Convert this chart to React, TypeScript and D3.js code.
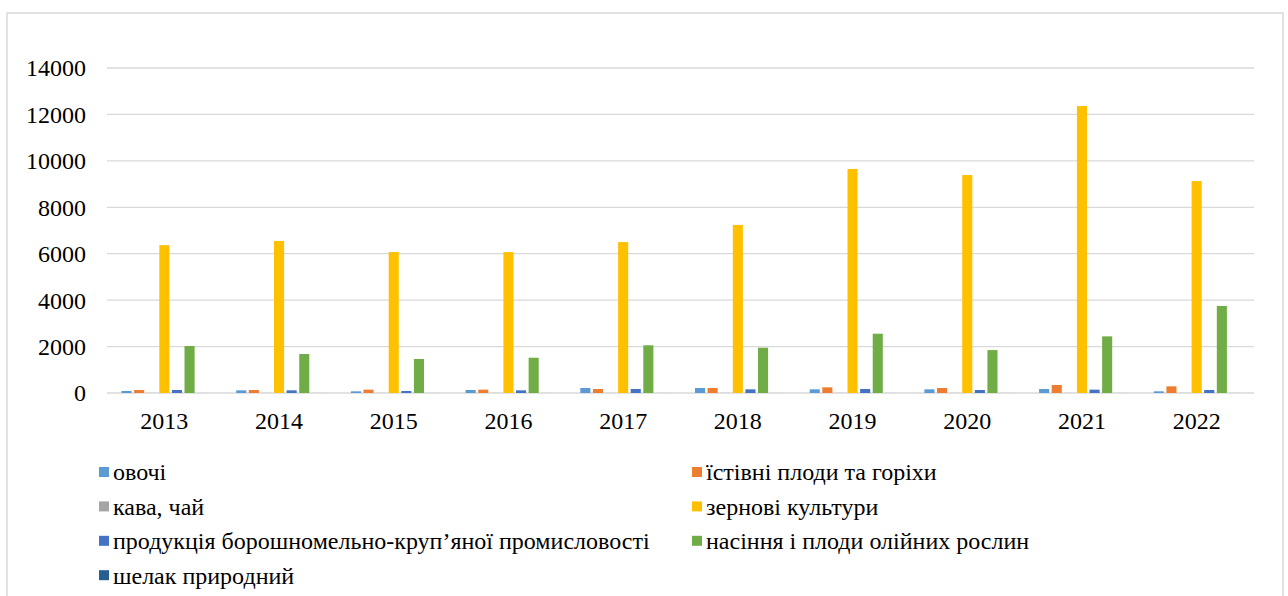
import React, { useEffect, useRef } from 'react';
import * as d3 from 'd3';

const years = ['2013', '2014', '2015', '2016', '2017', '2018', '2019', '2020', '2021', '2022'];
const seriesNames = [
  'овочі',
  'їстівні плоди та горіхи',
  'кава, чай',
  'зернові культури',
  'продукція борошномельно-круп’яної промисловості',
  'насіння і плоди олійних рослин',
  'шелак природний',
];
const vegetables = [86, 115, 72, 129, 215, 215, 158, 158, 172, 72];
const fruitsNuts = [129, 129, 144, 144, 172, 215, 244, 215, 345, 287];
const coffeeTea = [3, 3, 3, 3, 3, 3, 3, 3, 3, 3];
const cereals = [6370, 6550, 6070, 6070, 6500, 7240, 9650, 9390, 12360, 9130];
const flourMill = [129, 115, 86, 115, 172, 158, 172, 129, 144, 129];
const oilSeeds = [2025, 1680, 1465, 1520, 2055, 1950, 2555, 1850, 2440, 3750];
const shellac = [1, 1, 1, 1, 1, 1, 1, 1, 1, 1];
const yTicks = [0, 2000, 4000, 6000, 8000, 10000, 12000, 14000];
const colors = ['#5B9BD5', '#ED7D31', '#A5A5A5', '#FFC000', '#4472C4', '#70AD47', '#255E91'];

const App: React.FC = () => {
  const svgRef = useRef<SVGSVGElement>(null);

  useEffect(() => {
    document.body.style.margin = '0';
    if (!svgRef.current) return;
    const width = 1288;
    const height = 596;
    const font = "'Liberation Serif', serif";
    const fontSize = 24;
    const series = [vegetables, fruitsNuts, coffeeTea, cereals, flourMill, oilSeeds, shellac];

    const svg = d3.select(svgRef.current);
    svg.selectAll('*').remove();
    svg.attr('width', width).attr('height', height).style('font-family', font);

    svg.append('rect')
      .attr('x', 7).attr('y', 13)
      .attr('width', 1276).attr('height', 600)
      .attr('fill', 'white')
      .attr('stroke', '#d9d9d9')
      .attr('stroke-width', 1.5);

    const left = 107, right = 1254, top = 68, bottom = 393;

    const x = d3.scaleBand().domain(years).range([left, right]).paddingInner(0).paddingOuter(0);
    const y = d3.scaleLinear().domain([0, 14000]).range([bottom, top]);
    const inner = d3.scaleBand<number>()
      .domain(d3.range(series.length))
      .range([0, x.bandwidth()])
      .paddingOuter(1.15)
      .paddingInner(0.2);

    // gridlines
    svg.append('g')
      .selectAll('line')
      .data(yTicks)
      .join('line')
      .attr('x1', left).attr('x2', right)
      .attr('y1', d => y(d)).attr('y2', d => y(d))
      .attr('stroke', '#d9d9d9')
      .attr('stroke-width', 1.3);

    svg.append('g')
      .selectAll('text')
      .data(yTicks)
      .join('text')
      .attr('x', 86)
      .attr('y', d => y(d))
      .attr('dy', '0.35em')
      .attr('text-anchor', 'end')
      .style('font-family', font)
      .attr('font-size', fontSize)
      .attr('fill', '#000')
      .text(d => String(d));

    // bars
    series.forEach((vals, si) => {
      svg.append('g')
        .selectAll('rect')
        .data(vals)
        .join('rect')
        .attr('x', (_, i) => (x(years[i]) as number) + (inner(si) as number))
        .attr('y', d => y(d))
        .attr('width', inner.bandwidth())
        .attr('height', d => bottom - y(d))
        .attr('fill', colors[si]);
    });

    // x labels
    svg.append('g')
      .selectAll('text')
      .data(years)
      .join('text')
      .attr('x', d => (x(d) as number) + x.bandwidth() / 2)
      .attr('y', 421)
      .attr('dy', '0.35em')
      .attr('text-anchor', 'middle')
      .style('font-family', font)
      .attr('font-size', fontSize)
      .attr('fill', '#000')
      .text(d => d);

    // legend
    const legend = svg.append('g');
    seriesNames.forEach((name, i) => {
      const col = i % 2;
      const row = Math.floor(i / 2);
      const lx = col === 0 ? 99 : 692;
      const ly = 472 + row * 34.4;
      legend.append('rect')
        .attr('x', lx).attr('y', ly - 5)
        .attr('width', 10).attr('height', 10)
        .attr('fill', colors[i]);
      legend.append('text')
        .attr('x', lx + 14)
        .attr('y', ly)
        .attr('dy', '0.35em')
        .style('font-family', font)
        .attr('font-size', fontSize)
        .attr('fill', '#000')
        .text(name);
    });
  }, []);

  return <svg ref={svgRef} style={{ display: 'block' }} />;
};

export default App;
